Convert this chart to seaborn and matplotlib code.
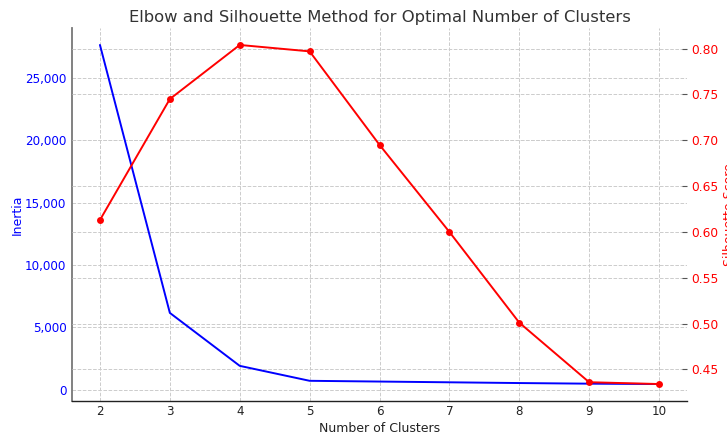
import matplotlib
matplotlib.use("Agg")
import matplotlib.pyplot as plt
import matplotlib.ticker as mticker
import seaborn as sns
import pandas as pd

clusters = [2, 3, 4, 5, 6, 7, 8, 9, 10]
inertia = [27650, 6150, 1900, 700, 640, 580, 520, 470, 440]
silhouette = [0.613, 0.745, 0.804, 0.797, 0.695, 0.600, 0.501, 0.436, 0.434]
sil_ticks = [0.45, 0.50, 0.55, 0.60, 0.65, 0.70, 0.75, 0.80]

df = pd.DataFrame({"k": clusters, "inertia": inertia, "sil": silhouette})

sns.set_style("white")
plt.rcParams["font.family"] = ["DejaVu Sans"]

fig = plt.figure(figsize=(7.27, 4.36), dpi=100)
rect = [72 / 727, 35 / 436, 615 / 727, 373 / 436]

# grid axes (left and right scales)
ax = fig.add_axes(rect)
ax2 = ax.twinx()

# overlay axes for the lines, so the lines sit above both grids
axL = fig.add_axes(rect, sharex=ax, sharey=ax)
axR = fig.add_axes(rect, sharex=ax, sharey=ax2)
for a in (axL, axR):
    a.patch.set_visible(False)

sns.lineplot(data=df, x="k", y="inertia", ax=axL, color="blue", linewidth=1.4)
sns.lineplot(data=df, x="k", y="sil", ax=axR, color="red", linewidth=1.4,
             marker="o", markersize=5, markeredgewidth=0)
for a in (axL, axR):
    a.axis("off")

for a in (ax, ax2):
    a.grid(True, linestyle="--", color="#cccccc", linewidth=0.7)
    a.set_axisbelow(True)

ax.set_xticks(clusters)
ax.yaxis.set_major_formatter(mticker.StrMethodFormatter("{x:,.0f}"))
ax.set_xlabel("Number of Clusters", fontsize=9, color="#222222", labelpad=3)
ax.set_ylabel("Inertia", fontsize=9, color="blue", labelpad=1)
ax2.set_ylabel("Silhouette Score", fontsize=9, color="red", labelpad=3)
ax2.set_yticks(sil_ticks)

ax.tick_params(axis="y", colors="blue", labelsize=8.6, length=0, pad=4)
ax.tick_params(axis="x", colors="#222222", labelsize=8.6, length=0, pad=3)
ax2.tick_params(axis="y", labelcolor="red", color="#555555", labelsize=8.8,
                length=3.5, direction="in", pad=3)

for s in ("top", "right"):
    ax.spines[s].set_visible(False)
for s in ("top", "right", "left", "bottom"):
    ax2.spines[s].set_visible(False)
ax.spines["left"].set_color("#777777")
ax.spines["left"].set_linewidth(1.3)
ax.spines["bottom"].set_color("#222222")
ax.spines["bottom"].set_linewidth(1.0)

ax.set_title("Elbow and Silhouette Method for Optimal Number of Clusters",
             fontsize=11.8, color="#333333", pad=4)

fig.savefig("out.png", dpi=100)
